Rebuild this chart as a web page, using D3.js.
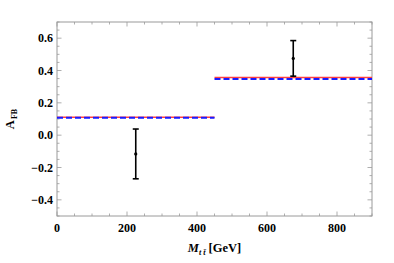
<!DOCTYPE html>
<html>
<head>
<meta charset="utf-8">
<script src="https://cdn.jsdelivr.net/npm/d3@7"></script>
<style>
  body { margin: 0; background: #fff; }
  text { font-family: "Liberation Serif", "Times New Roman", serif; font-weight: bold; fill: #000; }
</style>
</head>
<body>
<div id="chart"></div>
<script>
// bin edges of the two mass regions
const binEdges = [0, 450, 900];
// theory predictions per bin (red solid, blue dashed)
const predRed = [0.111, 0.357];
const predBlue = [0.107, 0.348];
// measured points
const dataMass = [225, 675];
const dataAfb = [-0.116, 0.475];
const dataErr = [0.154, 0.11];

const xMajor = [0, 200, 400, 600, 800];
const yMajor = [-0.4, -0.2, 0.0, 0.2, 0.4, 0.6];

const width = 394, height = 263;
const margin = { left: 57, right: 22, top: 22, bottom: 47 };

const svg = d3.select("#chart").append("svg")
  .attr("width", width)
  .attr("height", height);

const x = d3.scaleLinear().domain([0, 900]).range([margin.left, width - margin.right]);
const y = d3.scaleLinear().domain([-0.5, 0.7]).range([height - margin.bottom, margin.top]);

const frameColor = "#9a9a9a";
const xMinor = d3.range(0, 901, 50).filter((d) => d % 200 !== 0);
const yMinor = d3.range(-10, 15).map((d) => d * 0.05).filter((d) => Math.abs(Math.round(d * 100) % 20) !== 0);

// ticks on all four sides, pointing inward
function drawTicks(vals, len, cls) {
  const g = svg.append("g").attr("class", cls).attr("stroke", frameColor).attr("stroke-width", 0.8);
  vals.x.forEach((v) => {
    g.append("line").attr("x1", x(v)).attr("x2", x(v)).attr("y1", y(-0.5)).attr("y2", y(-0.5) - len);
    g.append("line").attr("x1", x(v)).attr("x2", x(v)).attr("y1", y(0.7)).attr("y2", y(0.7) + len);
  });
  vals.y.forEach((v) => {
    g.append("line").attr("y1", y(v)).attr("y2", y(v)).attr("x1", x(0)).attr("x2", x(0) + len);
    g.append("line").attr("y1", y(v)).attr("y2", y(v)).attr("x1", x(900)).attr("x2", x(900) - len);
  });
}
drawTicks({ x: xMajor, y: yMajor }, 4.5, "major");
drawTicks({ x: xMinor, y: yMinor }, 2.5, "minor");

svg.append("rect")
  .attr("x", x(0)).attr("y", y(0.7))
  .attr("width", x(900) - x(0)).attr("height", y(-0.5) - y(0.7))
  .attr("fill", "none").attr("stroke", frameColor).attr("stroke-width", 1);

// tick labels
svg.append("g").selectAll("text").data(xMajor).join("text")
  .attr("x", (d) => x(d)).attr("y", y(-0.5) + 16)
  .attr("text-anchor", "middle").attr("font-size", 12)
  .text((d) => d);

svg.append("g").selectAll("text").data(yMajor).join("text")
  .attr("x", x(0) - 4).attr("y", (d) => y(d) + 4)
  .attr("text-anchor", "end").attr("font-size", 12)
  .text((d) => d3.format(".1f")(d).replace("-", "\u2212"));

// predictions
const segs = d3.range(predRed.length);
svg.append("g").selectAll("line").data(segs).join("line")
  .attr("x1", (i) => x(binEdges[i])).attr("x2", (i) => x(binEdges[i + 1]))
  .attr("y1", (i) => y(predRed[i])).attr("y2", (i) => y(predRed[i]))
  .attr("stroke", "#ff4040").attr("stroke-width", 1.6);

svg.append("g").selectAll("line").data(segs).join("line")
  .attr("x1", (i) => x(binEdges[i])).attr("x2", (i) => x(binEdges[i + 1]))
  .attr("y1", (i) => y(predBlue[i])).attr("y2", (i) => y(predBlue[i]))
  .attr("stroke", "#1a1aff").attr("stroke-width", 2)
  .attr("stroke-dasharray", "6,3");

// data points with error bars
const pts = d3.range(dataMass.length);
const eb = svg.append("g").attr("stroke", "#000").attr("stroke-width", 1.6);
pts.forEach((i) => {
  const cx = x(dataMass[i]);
  const top = y(dataAfb[i] + dataErr[i]);
  const bot = y(dataAfb[i] - dataErr[i]);
  eb.append("line").attr("x1", cx).attr("x2", cx).attr("y1", top).attr("y2", bot);
  eb.append("line").attr("x1", cx - 3).attr("x2", cx + 3).attr("y1", top).attr("y2", top);
  eb.append("line").attr("x1", cx - 3).attr("x2", cx + 3).attr("y1", bot).attr("y2", bot);
  svg.append("circle").attr("cx", cx).attr("cy", y(dataAfb[i])).attr("r", 1.6).attr("fill", "#000");
});

// axis titles
const xt = svg.append("text")
  .attr("x", (x(0) + x(900)) / 2).attr("y", height - 11)
  .attr("text-anchor", "middle").attr("font-size", 12.5);
xt.append("tspan").attr("font-style", "italic").text("M");
xt.append("tspan").attr("font-style", "italic").attr("font-size", 8).attr("dy", 3).text("t t\u0304");
xt.append("tspan").attr("dy", -3).text(" [GeV]");

const yt = svg.append("text")
  .attr("transform", `translate(14,${y(0.1)}) rotate(-90)`)
  .attr("text-anchor", "middle").attr("font-size", 12.5);
yt.append("tspan").text("A");
yt.append("tspan").attr("font-size", 8).attr("dy", 3).attr("dx", 1).text("FB");
</script>
</body>
</html>
